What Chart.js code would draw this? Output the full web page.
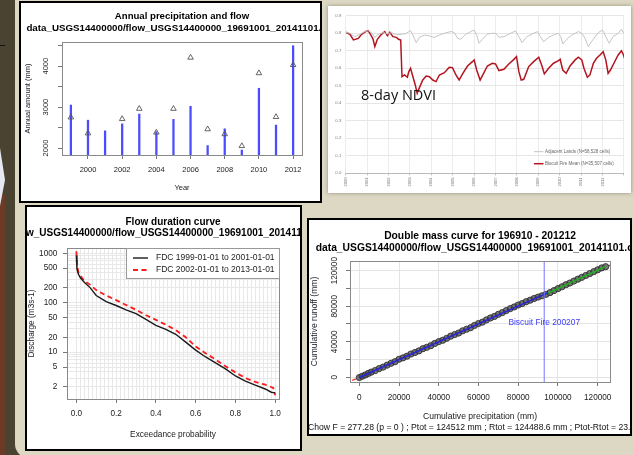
<!DOCTYPE html>
<html>
<head>
<script src="https://cdn.jsdelivr.net/npm/chart.js@4.4.1/dist/chart.umd.min.js"></script>
<style>
  body { margin:0; width:634px; height:455px; overflow:hidden; position:relative; background:#4a4331; }
  .slide { position:absolute; left:15px; top:-20px; width:630px; height:478px; background:#ddd8c3; border-radius:14px; }
  .deco { position:absolute; }
  .panel { position:absolute; background:#fff; border:2px solid #000; }
  .panel canvas, .shot canvas { display:block; }
  .shot { position:absolute; left:328px; top:6px; width:303px; height:187px; background:#fff; box-shadow:0 0 4px rgba(60,50,30,0.45); }
  .ndvi { position:absolute; left:361px; top:88px; font-family:"Open Sans", sans-serif; font-size:14.5px; line-height:1; color:#111; }
</style>
</head>
<body>
<div class="deco" style="left:0;top:195px;width:5px;height:260px;background:#6b3b26"></div>
<div class="deco" style="left:0;top:148px;width:5px;height:58px;background:#e6e9f1;clip-path:polygon(0 0,100% 55%,0 100%)"></div>
<div class="deco" style="left:0;top:45px;width:5px;height:1px;background:#111"></div>
<div class="slide"></div>

<div class="panel" style="left:19px;top:1px;width:299px;height:198px"><canvas id="c1" width="299" height="198"></canvas></div>
<div class="shot"><canvas id="c2" width="303" height="187"></canvas></div>
<div class="ndvi">8-day NDVI</div>
<div class="panel" style="left:25px;top:205px;width:273px;height:242px"><canvas id="c3" width="273" height="242"></canvas></div>
<div class="panel" style="left:307px;top:218px;width:321px;height:214px"><canvas id="c4" width="321" height="214"></canvas></div>

<script>
  var F = "'Liberation Sans', Arial, Helvetica, sans-serif";

  // annual precipitation and flow
  var years = [1999, 2000, 2001, 2002, 2003, 2004, 2005, 2006, 2007, 2008, 2009, 2010, 2011, 2012];
  var flowAmt = [3050, 2680, 2420, 2590, 2830, 2400, 2700, 3020, 2060, 2470, 1950, 3460, 2560, 4500];
  var precipAmt = [2750, 2360, null, 2710, 2960, 2380, 2960, 4210, 2460, 2340, 2050, 3830, 2760, 4030];
  var yearTicks = [2000, 2002, 2004, 2006, 2008, 2010, 2012];
  var amountTicks = [2000, 2500, 3000, 3500, 4000, 4500];

  // 8-day NDVI
  var fireDates = [2000.00, 2000.20, 2000.36, 2000.59, 2000.74, 2000.93, 2001.05, 2001.18, 2001.28, 2001.36, 2001.48, 2001.64, 2001.82, 2001.95,
    2002.06, 2002.21, 2002.37, 2002.47, 2002.57, 2002.63, 2002.75, 2002.88, 2002.95, 2003.03, 2003.14, 2003.25, 2003.34, 2003.45, 2003.60,
    2003.76, 2003.91, 2004.07, 2004.22, 2004.38, 2004.61, 2004.84, 2004.99, 2005.15, 2005.30, 2005.46, 2005.69, 2005.92, 2006.00, 2006.12,
    2006.28, 2006.43, 2006.62, 2006.85, 2007.00, 2007.16, 2007.39, 2007.62, 2007.86, 2007.98, 2008.09, 2008.20, 2008.32, 2008.55, 2008.78,
    2009.02, 2009.17, 2009.28, 2009.48, 2009.71, 2009.94, 2010.02, 2010.14, 2010.30, 2010.48, 2010.72, 2010.87, 2011.03, 2011.13, 2011.29,
    2011.41, 2011.57, 2011.72, 2011.88, 2012.03, 2012.15, 2012.26, 2012.37, 2012.53, 2012.73, 2012.88, 2012.96, 2013.00];
  var fireNdvi = [0.806, 0.794, 0.762, 0.771, 0.794, 0.810, 0.815, 0.790, 0.766, 0.724, 0.766, 0.790, 0.810, 0.787,
    0.806, 0.781, 0.777, 0.766, 0.762, 0.552, 0.562, 0.549, 0.581, 0.600, 0.552, 0.505, 0.457, 0.491, 0.533,
    0.556, 0.552, 0.533, 0.524, 0.562, 0.575, 0.606, 0.604, 0.562, 0.533, 0.568, 0.613, 0.638, 0.648, 0.590,
    0.533, 0.568, 0.613, 0.629, 0.625, 0.587, 0.594, 0.625, 0.651, 0.667, 0.581, 0.533, 0.537, 0.610, 0.638,
    0.663, 0.613, 0.568, 0.600, 0.629, 0.644, 0.651, 0.590, 0.571, 0.613, 0.648, 0.663, 0.648, 0.600, 0.549,
    0.562, 0.629, 0.657, 0.676, 0.695, 0.648, 0.571, 0.590, 0.629, 0.676, 0.700, 0.682, 0.667];
  var adjDates = [2000.00, 2000.20, 2000.43, 2000.66, 2000.90, 2001.05, 2001.21, 2001.36, 2001.52, 2001.75, 2001.98, 2002.13, 2002.37,
    2002.60, 2002.83, 2003.03, 2003.14, 2003.29, 2003.45, 2003.68, 2003.91, 2004.14, 2004.38, 2004.61, 2004.92, 2005.07, 2005.23,
    2005.38, 2005.61, 2005.85, 2006.00, 2006.12, 2006.23, 2006.39, 2006.62, 2006.85, 2007.00, 2007.16, 2007.39, 2007.70, 2007.93,
    2008.09, 2008.24, 2008.47, 2008.78, 2008.97, 2009.09, 2009.25, 2009.48, 2009.71, 2009.94, 2010.05, 2010.14, 2010.33, 2010.56,
    2010.87, 2011.03, 2011.18, 2011.33, 2011.54, 2011.80, 2012.00, 2012.15, 2012.31, 2012.49, 2012.73, 2012.88, 2013.00];
  var adjNdvi = [0.806, 0.800, 0.781, 0.794, 0.810, 0.815, 0.804, 0.777, 0.794, 0.804, 0.796, 0.804, 0.792,
    0.794, 0.800, 0.815, 0.790, 0.747, 0.777, 0.790, 0.785, 0.777, 0.790, 0.800, 0.810, 0.804, 0.771,
    0.766, 0.794, 0.810, 0.819, 0.790, 0.743, 0.766, 0.796, 0.800, 0.800, 0.777, 0.781, 0.800, 0.813,
    0.781, 0.747, 0.781, 0.800, 0.810, 0.781, 0.752, 0.777, 0.790, 0.800, 0.781, 0.739, 0.766, 0.790,
    0.810, 0.800, 0.771, 0.724, 0.762, 0.804, 0.819, 0.781, 0.743, 0.781, 0.800, 0.823, 0.800];
  var ndviTicks = [0, 0.1, 0.2, 0.3, 0.4, 0.5, 0.6, 0.7, 0.8, 0.9];
  var ndviYears = [2000, 2001, 2002, 2003, 2004, 2005, 2006, 2007, 2008, 2009, 2010, 2011, 2012, 2013];

  // flow duration curves
  var fdc1Prob = [0, 0.003, 0.01, 0.02, 0.04, 0.07, 0.1, 0.15, 0.2, 0.25, 0.3, 0.35, 0.4, 0.45, 0.5, 0.55, 0.6, 0.65, 0.7, 0.75, 0.8, 0.85, 0.9, 0.95, 0.98, 1.0];
  var fdc1Q = [900, 480, 380, 320, 260, 200, 140, 105, 88, 72, 60, 46, 35, 29, 23, 16, 11, 8, 6.1, 4.6, 3.3, 2.6, 2.15, 1.8, 1.55, 1.5];
  var fdc2Prob = [0, 0.003, 0.01, 0.02, 0.04, 0.07, 0.1, 0.15, 0.2, 0.25, 0.3, 0.35, 0.4, 0.45, 0.5, 0.55, 0.6, 0.65, 0.7, 0.75, 0.8, 0.85, 0.9, 0.95, 0.99, 1.0];
  var fdc2Q = [1100, 600, 420, 350, 280, 230, 180, 140, 113, 90, 72, 56, 45, 36, 28, 20, 13, 9.5, 7.1, 5.2, 3.9, 3.0, 2.5, 2.2, 1.9, 1.35];
  var dischargeLabels = [1000, 500, 200, 100, 50, 20, 10, 5, 2];
  var probLabels = [0, 0.2, 0.4, 0.6, 0.8, 1.0];

  // double mass curve
  var cumPrecip = [0, 1500, 3000, 4500, 6000, 8000, 10000, 12000, 14000, 16000, 18000, 20000, 22000, 24000, 26000, 28000, 30000,
    32000, 34000, 36000, 38000, 40000, 42000, 44000, 46000, 48000, 50000, 52000, 54000, 56000, 58000, 60000, 62000, 64000, 66000,
    68000, 70000, 72000, 74000, 76000, 78000, 80000, 82000, 84000, 86000, 88000, 90000, 92000, 94000, 96000, 98000, 100000, 102000,
    104000, 106000, 108000, 110000, 112000, 114000, 116000, 118000, 120000, 122000, 124000];
  var cumRunoff = [-300, 1200, 2600, 4300, 5800, 7600, 9800, 11500, 13700, 15800, 17600, 20300, 21900, 23800, 26200, 27900, 29700,
    32200, 33800, 35600, 38100, 40200, 41700, 43900, 46300, 48100, 49800, 52300, 54100, 55800, 58400, 60500, 62100, 64600, 66800,
    68500, 70900, 72800, 75100, 77300, 79200, 81400, 83000, 85100, 86800, 88700, 90300, 91800, 93400, 95300, 97600, 99800, 101900,
    104200, 106100, 108300, 110400, 112500, 114600, 116700, 118900, 121000, 123100, 124500];
  var preFitX = [0, 95000], preFitY = [-300, 95300];
  var postFitX = [95000, 124000], postFitY = [94600, 124700];
  var fireMonth = 93100;
  var massTicks = [0, 20000, 40000, 60000, 80000, 100000, 120000];

  function pts(xs, ys) { return xs.map(function (x, i) { return { x: x, y: ys[i] }; }); }
  function fixed(list) { return function (s) { s.ticks = list.map(function (v) { return { value: v }; }); }; }
  function near(v, list) { return list.some(function (t) { return Math.abs(t - v) < 1e-6; }); }

  // R-like plot box round the chart area
  function boxPlugin(color) {
    return {
      id: 'rbox',
      afterDraw: function (chart) {
        var a = chart.chartArea, ctx = chart.ctx;
        ctx.save(); ctx.strokeStyle = color; ctx.lineWidth = 1;
        ctx.strokeRect(Math.round(a.left) + 0.5, Math.round(a.top) + 0.5, Math.round(a.right - a.left), Math.round(a.bottom - a.top));
        ctx.restore();
      }
    };
  }
  // text lines centred on the plot (titles, notes); "at" puts a label at data coordinates
  function textPlugin(items) {
    return {
      id: 'rtext',
      afterDraw: function (chart) {
        var a = chart.chartArea, ctx = chart.ctx;
        items.forEach(function (t) {
          var x = (a.left + a.right) / 2, y = t.y;
          if (t.at) { x = chart.scales.x.getPixelForValue(t.at[0]); y = chart.scales.y.getPixelForValue(t.at[1]); }
          ctx.save(); ctx.font = t.font; ctx.fillStyle = t.color || '#000';
          ctx.textAlign = 'center'; ctx.textBaseline = 'middle';
          ctx.fillText(t.text, x, y);
          ctx.restore();
        });
      }
    };
  }
  // small legend drawn from the datasets
  function keyPlugin(o) {
    return {
      id: 'rkey',
      afterDraw: function (chart) {
        var a = chart.chartArea, ctx = chart.ctx;
        var x0 = a.right + o.dx, y0 = (o.fromBottom ? a.bottom : a.top) + o.dy;
        ctx.save();
        if (o.w) { ctx.fillStyle = '#fff'; ctx.fillRect(x0, y0, o.w, o.h); ctx.strokeStyle = '#999'; ctx.lineWidth = 1; ctx.strokeRect(x0 + 0.5, y0 + 0.5, o.w, o.h); }
        o.rows.forEach(function (r, i) {
          var ds = chart.data.datasets[r];
          var y = y0 + o.ry[i];
          ctx.strokeStyle = ds.borderColor; ctx.lineWidth = ds.borderWidth; ctx.setLineDash(ds.borderDash || []);
          ctx.beginPath(); ctx.moveTo(x0 + o.lx[0], y); ctx.lineTo(x0 + o.lx[1], y); ctx.stroke();
          ctx.setLineDash([]);
          ctx.font = o.font; ctx.fillStyle = o.color; ctx.textAlign = 'left'; ctx.textBaseline = 'middle';
          ctx.fillText(ds.label, x0 + o.tx, y);
        });
        ctx.restore();
      }
    };
  }

  var quiet = { legend: { display: false }, tooltip: { enabled: false } };

  // 1. annual precipitation and flow
  new Chart(document.getElementById('c1'), {
    type: 'scatter',
    data: {
      datasets: [
        { type: 'bar', label: 'Flow', data: pts(years, flowAmt), backgroundColor: 'rgba(30,30,255,0.8)', barThickness: 1.6, borderWidth: 0, order: 2 },
        { type: 'scatter', label: 'Precipitation', data: pts(years, precipAmt), pointStyle: 'triangle', pointRadius: 3.2,
          borderColor: '#555', backgroundColor: 'rgba(0,0,0,0)', borderWidth: 0.9, order: 1 }
      ]
    },
    options: {
      responsive: false, animation: false,
      layout: { padding: { top: 39, right: 18 } },
      plugins: quiet,
      scales: {
        x: {
          type: 'linear', min: 1998.48, max: 2012.52, offset: false,
          afterBuildTicks: fixed(yearTicks), afterFit: function (s) { s.height = 46; },
          grid: { drawOnChartArea: false, tickLength: 4, tickColor: '#777', offset: false }, border: { display: false },
          ticks: { font: { family: F, size: 7.5 }, color: '#222', padding: 6, maxRotation: 0, autoSkip: false, callback: function (v) { return String(v); } },
          title: { display: true, text: 'Year', font: { family: F, size: 7.5 }, color: '#222', padding: { top: 0, bottom: 8.5 } }
        },
        y: {
          type: 'linear', min: 1830, max: 4590, beginAtZero: false,
          afterBuildTicks: fixed(amountTicks), afterFit: function (s) { s.width = 41; },
          grid: { drawOnChartArea: false, tickLength: 4, tickColor: '#777' }, border: { display: false },
          ticks: { font: { family: F, size: 7.5 }, color: '#222', padding: 3.6, minRotation: 90, maxRotation: 90, crossAlign: 'center', autoSkip: false,
            callback: function (v) { return v % 1000 === 0 ? String(v) : ''; } },
          title: { display: true, text: 'Annual amount (mm)', font: { family: F, size: 7.5 }, color: '#222', padding: { top: 2.5, bottom: 0 } }
        }
      }
    },
    plugins: [
      boxPlugin('#8a8a8a'),
      textPlugin([
        { text: 'Annual precipitation and flow', y: 13.7, font: 'bold 9.6px ' + F },
        { text: 'data_USGS14400000/flow_USGS14400000_19691001_20141101.csv', y: 25.5, font: 'bold 9.75px ' + F }
      ])
    ]
  });

  // 2. 8-day NDVI
  new Chart(document.getElementById('c2'), {
    type: 'line',
    data: {
      datasets: [
        { label: 'Adjacent Lands (N=58,528 cells)', data: pts(adjDates, adjNdvi), borderColor: '#c4c4c4', borderWidth: 1, pointRadius: 0, tension: 0 },
        { label: 'Biscuit Fire Mean (N=35,507 cells)', data: pts(fireDates, fireNdvi), borderColor: '#b3141f', borderWidth: 1.5, pointRadius: 0, tension: 0 }
      ]
    },
    options: {
      responsive: false, animation: false,
      layout: { padding: { top: 9.8, right: 4.3 } },
      plugins: quiet,
      scales: {
        x: {
          type: 'linear', min: 2000, max: 2013,
          afterBuildTicks: fixed(ndviYears), afterFit: function (s) { s.height = 19.7; },
          grid: { color: '#ececec', tickLength: 2, tickColor: '#bbb' }, border: { color: '#bbb' },
          ticks: { font: { family: F, size: 4.2 }, color: '#777', padding: 2, minRotation: 90, maxRotation: 90, autoSkip: false,
            callback: function (v) { return v <= 2012 ? String(v) : ''; } }
        },
        y: {
          type: 'linear', min: 0, max: 0.9,
          afterBuildTicks: fixed(ndviTicks), afterFit: function (s) { s.width = 17.7; },
          grid: { color: '#e6e6e6', drawTicks: false }, border: { display: false },
          ticks: { font: { family: F, size: 4.3 }, color: '#777', padding: 4.4, callback: function (v) { return v.toFixed(1); } }
        }
      }
    },
    plugins: [
      keyPlugin({ rows: [0, 1], fromBottom: true, dx: -90, dy: -21.6, lx: [0, 9.5], ry: [0, 12], tx: 11, font: '4.5px ' + F, color: '#666' })
    ]
  });

  // 3. flow duration curve
  var probGrid = [];
  for (var g = 0; g <= 50; g++) probGrid.push(g / 50);
  var qGrid = [2, 3, 4, 5, 6, 7, 8, 9, 10, 20, 30, 40, 50, 60, 70, 80, 90, 100, 200, 300, 400, 500, 600, 700, 800, 900, 1000];
  new Chart(document.getElementById('c3'), {
    type: 'line',
    data: {
      datasets: [
        { label: 'FDC 1999-01-01 to 2001-01-01', data: pts(fdc1Prob, fdc1Q), borderColor: '#1a1a1a', borderWidth: 1.4, pointRadius: 0, tension: 0 },
        { label: 'FDC 2002-01-01 to 2013-01-01', data: pts(fdc2Prob, fdc2Q), borderColor: '#ff1a1a', borderWidth: 1.8, borderDash: [5, 3.5], pointRadius: 0, tension: 0 }
      ]
    },
    options: {
      responsive: false, animation: false,
      layout: { padding: { top: 41, right: 21 } },
      plugins: quiet,
      scales: {
        x: {
          type: 'linear', min: -0.047, max: 1.019,
          afterBuildTicks: fixed(probGrid), afterFit: function (s) { s.height = 50; },
          grid: { color: '#e8e8e8', tickLength: 4, tickColor: function (c) { return near(c.tick.value, probLabels) ? '#777' : 'rgba(0,0,0,0)'; } },
          border: { display: false },
          ticks: { font: { family: F, size: 8.2 }, color: '#222', padding: 6, maxRotation: 0, autoSkip: false,
            callback: function (v) { return near(v, probLabels) ? v.toFixed(1) : ''; } },
          title: { display: true, text: 'Exceedance probability', font: { family: F, size: 8.3 }, color: '#222', padding: { top: 0, bottom: 9.6 } }
        },
        y: {
          type: 'logarithmic', min: 1.13, max: 1280,
          afterBuildTicks: fixed(qGrid), afterFit: function (s) { s.width = 40; },
          grid: { color: '#e8e8e8', tickLength: 4, tickColor: function (c) { return near(c.tick.value, dischargeLabels) ? '#777' : 'rgba(0,0,0,0)'; } },
          border: { display: false },
          ticks: { font: { family: F, size: 8.2 }, color: '#222', padding: 5.7, autoSkip: false,
            callback: function (v) { return near(v, dischargeLabels) ? String(v) : ''; } },
          title: { display: true, text: 'Discharge (m3s-1)', font: { family: F, size: 8.3 }, color: '#222', padding: { top: 0, bottom: 0 } }
        }
      }
    },
    plugins: [
      boxPlugin('#8a8a8a'),
      textPlugin([
        { text: 'Flow duration curve', y: 15.3, font: 'bold 10px ' + F },
        { text: 'flow_USGS14400000/flow_USGS14400000_19691001_20141101.csv', y: 26.7, font: 'bold 10px ' + F }
      ]),
      keyPlugin({ rows: [0, 1], fromBottom: false, dx: -153, dy: 0, w: 153, h: 30, lx: [7, 22], ry: [10, 22], tx: 30, font: '8.5px ' + F, color: '#222' })
    ]
  });

  // 4. double mass curve
  new Chart(document.getElementById('c4'), {
    type: 'scatter',
    data: {
      datasets: [
        { type: 'line', label: '1:1', data: [{ x: -10000, y: -10000 }, { x: 140000, y: 140000 }], borderColor: '#ff3030', borderWidth: 1.3, borderDash: [4, 3], pointRadius: 0, order: 4 },
        { type: 'scatter', label: 'monthly', data: pts(cumPrecip, cumRunoff), pointRadius: 3.1, borderWidth: 1, borderColor: 'rgba(50,50,50,0.9)', backgroundColor: 'rgba(75,75,75,0.75)', order: 3 },
        { type: 'line', label: 'pre-fire fit', data: pts(preFitX, preFitY), borderColor: '#2626e0', borderWidth: 1.5, pointRadius: 0, order: 2 },
        { type: 'line', label: 'post-fire fit', data: pts(postFitX, postFitY), borderColor: '#24b024', borderWidth: 1.5, pointRadius: 0, order: 1 },
        { type: 'line', label: 'Biscuit Fire', data: [{ x: fireMonth, y: -20000 }, { x: fireMonth, y: 150000 }], borderColor: 'rgba(120,120,255,0.85)', borderWidth: 1.2, pointRadius: 0, order: 0 }
      ]
    },
    options: {
      responsive: false, animation: false,
      layout: { padding: { top: 41, right: 20 } },
      plugins: quiet,
      scales: {
        x: {
          type: 'linear', min: -4690, max: 126200,
          afterBuildTicks: fixed(massTicks), afterFit: function (s) { s.height = 52; },
          grid: { color: '#e4e4e4', tickLength: 4, tickColor: '#777' }, border: { display: false },
          ticks: { font: { family: F, size: 8.2 }, color: '#222', padding: 7, maxRotation: 0, autoSkip: false, callback: function (v) { return String(v); } },
          title: { display: true, text: 'Cumulative precipitation (mm)', font: { family: F, size: 8.6 }, color: '#222', padding: { top: 0, bottom: 11.8 } }
        },
        y: {
          type: 'linear', min: -5300, max: 130900,
          afterBuildTicks: fixed(massTicks), afterFit: function (s) { s.width = 41; },
          grid: { color: '#e4e4e4', tickLength: 4, tickColor: '#777' }, border: { display: false },
          ticks: { font: { family: F, size: 8.2 }, color: '#222', padding: -2.7, minRotation: 90, maxRotation: 90, crossAlign: 'center', autoSkip: false,
            callback: function (v) { return v % 40000 === 0 ? String(v) : ''; } },
          title: { display: true, text: 'Cumulative runoff (mm)', font: { family: F, size: 8.6 }, color: '#222', padding: { top: 0.9, bottom: 0 } }
        }
      }
    },
    plugins: [
      boxPlugin('#8a8a8a'),
      textPlugin([
        { text: 'Double mass curve for 196910 - 201212', y: 15.7, font: 'bold 10.3px ' + F },
        { text: 'data_USGS14400000/flow_USGS14400000_19691001_20141101.csv', y: 27.7, font: 'bold 10.3px ' + F },
        { text: 'Biscuit Fire 200207', at: [fireMonth, 62000], font: '8.4px ' + F, color: '#3c3cff' },
        { text: 'Chow F = 277.28 (p = 0 ) ; Ptot = 124512 mm ; Rtot = 124488.6 mm ; Ptot-Rtot = 23.4 mm', y: 208, font: '8.65px ' + F, color: '#111' }
      ])
    ]
  });
</script>
</body>
</html>
